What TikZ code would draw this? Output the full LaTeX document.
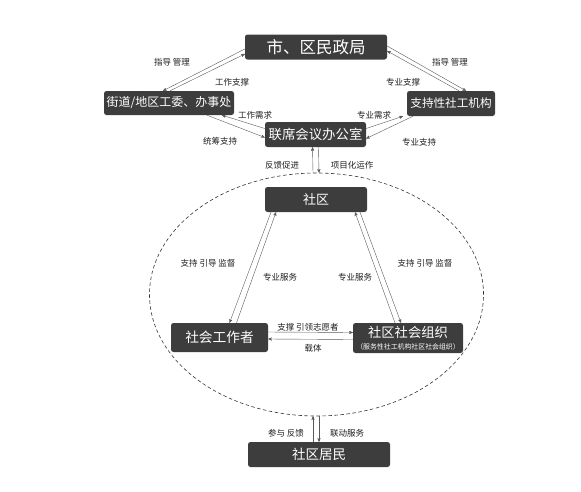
\documentclass[tikz,border=0pt]{standalone}
\usepackage{fontspec}
\setmainfont{Noto Sans CJK SC}
\usetikzlibrary{arrows,shapes.geometric}

\begin{document}
\begin{tikzpicture}[x=1pt,y=-1pt,->,>=stealth',thin,draw=black!65]
  \tikzstyle{box}=[fill=black!76,text=white,rounded corners=2.5pt,inner sep=0pt]
  \tikzstyle{lab}=[font=\fontsize{8.5}{9}\selectfont,text=black!88]

  \useasboundingbox (0,0) rectangle (581,491);

  \node[draw=black!80,line width=0.6pt,dash pattern=on 3.5pt off 2.5pt,ellipse,-,inner sep=0pt,minimum width=334pt,minimum height=243pt] (ov) at (316.5,294.5) {};

  \node[box,minimum width=142pt,minimum height=25pt,font=\fontsize{16.5}{17}\selectfont] (mz) at (316,47) {市、区民政局};
  \node[box,minimum width=130pt,minimum height=24pt,font=\fontsize{12}{13}\selectfont] (jd) at (169,103) {街道/地区工委、办事处};
  \node[box,minimum width=88pt,minimum height=25pt,font=\fontsize{11.6}{12}\selectfont] (zc) at (451,103.5) {支持性社工机构};
  \node[box,minimum width=101pt,minimum height=25pt,font=\fontsize{13.4}{14}\selectfont] (lx) at (315.5,134.5) {联席会议办公室};
  \node[box,minimum width=102pt,minimum height=25pt,font=\fontsize{13}{14}\selectfont] (sq) at (316,199.5) {社区};
  \node[box,minimum width=97pt,minimum height=29pt,font=\fontsize{13.7}{14}\selectfont] (sg) at (219.5,337.5) {社会工作者};
  \node[box,minimum width=110pt,minimum height=30pt,align=center,font=\fontsize{13.3}{14}\selectfont] (zz) at (408,338)
    {社区社会组织\\[-2pt]{\fontsize{6.9}{7}\selectfont （服务性社工机构社区社会组织）}};
  \node[box,minimum width=142pt,minimum height=25pt,font=\fontsize{13.5}{14}\selectfont] (jm) at (319,454.5) {社区居民};

  \path ([yshift=-2pt]mz.west) edge ([xshift=-6pt]jd.north)
        ([xshift=1pt]jd.north) edge ([yshift=-7pt]mz.west)
        ([yshift=1pt]mz.east) edge ([xshift=15pt]zc.north)
        ([xshift=8pt]zc.north) edge ([yshift=-4pt]mz.east)
        ([yshift=6pt]lx.west) edge ([xshift=53pt]jd.south)
        ([xshift=38pt]jd.south) edge ([yshift=-3pt]lx.west)
        ([yshift=6pt]lx.east) edge ([xshift=-48pt]zc.south)
        ([xshift=-38pt]zc.south) edge ([yshift=-4pt]lx.east)
        ([xshift=-3.5pt]ov.north) edge ([xshift=-3pt]lx.south)
        ([xshift=3pt]lx.south) edge ([xshift=2.5pt]ov.north)
        ([xshift=-45pt]sq.south) edge ([xshift=10pt]sg.north)
        ([xshift=17pt]sg.north) edge ([xshift=-40pt]sq.south)
        ([xshift=-13pt]zz.north) edge ([xshift=39pt]sq.south)
        ([xshift=44pt]sq.south) edge ([xshift=-7pt]zz.north)
        ([yshift=5.5pt]sg.east) edge ([yshift=5.5pt]zz.west)
        ([yshift=-1.5pt]zz.west) edge ([yshift=-1.5pt]sg.east)
        ([xshift=-6pt]jm.north) edge ([xshift=-3.5pt]ov.south)
        ([xshift=2.5pt]ov.south) edge (jm.north);

  \node[lab] (l1) at (172,62) {指导\ 管理};
  \node[lab] (l2) at (232,82) {工作支撑};
  \node[lab] (l3) at (450,62) {指导\ 管理};
  \node[lab] (l4) at (403,82) {专业支撑};
  \node[lab] (l5) at (255,115) {工作需求};
  \node[lab] (l6) at (220,141) {统筹支持};
  \node[lab] (l7) at (374,115) {专业需求};
  \node[lab] (l8) at (419,142) {专业支持};
  \node[lab] (l9) at (282,165) {反馈促进};
  \node[lab] (l10) at (352,165) {项目化运作};
  \node[lab] (l11) at (208,263) {支持\ 引导\ 监督};
  \node[lab] (l12) at (280,277) {专业服务};
  \node[lab] (l13) at (355,277) {专业服务};
  \node[lab] (l14) at (425,263) {支持\ 引导\ 监督};
  \node[lab] (l15) at (308,327) {支撑\ 引领志愿者};
  \node[lab] (l16) at (313,348) {载体};
  \node[lab] (l17) at (286,433) {参与\ 反馈};
  \node[lab] (l18) at (347,433) {联动服务};
\end{tikzpicture}
\end{document}
